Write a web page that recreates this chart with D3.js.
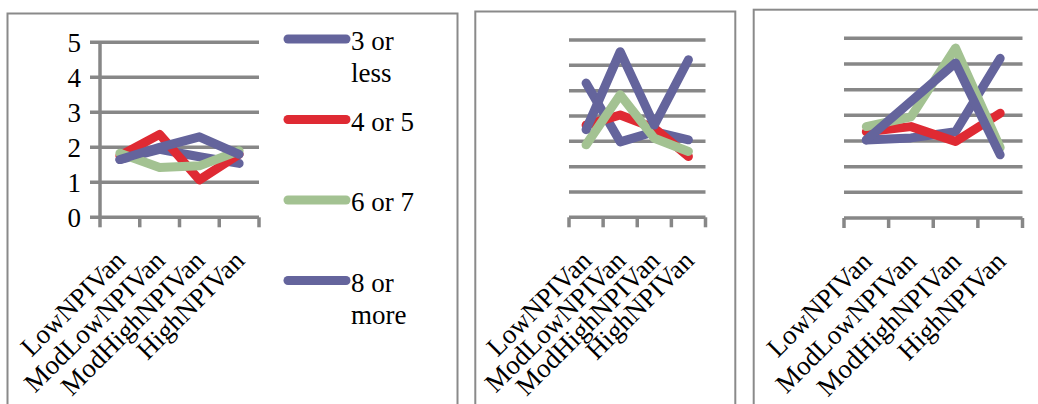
<!DOCTYPE html>
<html>
<head>
<meta charset="utf-8">
<script src="https://cdn.jsdelivr.net/npm/d3@7"></script>
<style>
  html, body { margin: 0; padding: 0; background: #fff; }
  svg { display: block; }
  text { font-family: "Liberation Serif", "DejaVu Serif", serif; fill: #000; }
</style>
</head>
<body>
<svg id="chart" width="1038" height="404"></svg>
<script>
// Categories and series shared by the three panels
const categories = ["LowNPIVan", "ModLowNPIVan", "ModHighNPIVan", "HighNPIVan"];
const seriesNames = ["3 or less", "4 or 5", "6 or 7", "8 or more"];
const seriesColors = ["#64649c", "#df2a33", "#a3c292", "#64649c"];

// Panel 1 (labelled 0–5 axis)
const panel1ThreeOrLess = [1.65, 1.94, 1.73, 1.54];
const panel1FourOrFive  = [1.76, 2.37, 1.07, 1.80];
const panel1SixOrSeven  = [1.83, 1.42, 1.47, 1.90];
const panel1EightOrMore = [1.65, 2.00, 2.30, 1.80];
const panel1Ticks = [0, 1, 2, 3, 4, 5];

// Panel 2
const panel2ThreeOrLess = [2.65, 1.49, 1.69, 1.53];
const panel2FourOrFive  = [1.82, 2.02, 1.76, 1.20];
const panel2SixOrSeven  = [1.43, 2.42, 1.56, 1.30];
const panel2EightOrMore = [1.73, 3.27, 1.82, 3.11];

// Panel 3
const panel3ThreeOrLess = [1.52, 1.56, 1.68, 3.11];
const panel3FourOrFive  = [1.68, 1.78, 1.49, 2.04];
const panel3SixOrSeven  = [1.78, 1.97, 3.31, 1.37];
const panel3EightOrMore = [1.52, 2.27, 3.02, 1.23];
const smallGridTicks = [0.5, 1, 1.5, 2, 2.5, 3, 3.5];

const svg = d3.select("#chart");
const gridColor = "#878787";
const borderColor = "#8a8a8a";

function drawPanel(opt) {
  // frame
  svg.append("rect")
    .attr("x", opt.frame[0]).attr("y", opt.frame[1])
    .attr("width", opt.frame[2]).attr("height", opt.frame[3])
    .attr("fill", "#fff").attr("stroke", borderColor).attr("stroke-width", 2);

  const x = d3.scaleBand().domain(categories).range([opt.left, opt.right]);
  const y = d3.scaleLinear().domain(opt.domain).range([opt.bottom, opt.top]);
  const g = svg.append("g");

  // horizontal gridlines
  g.selectAll("line.grid").data(opt.gridTicks).join("line")
    .attr("class", "grid")
    .attr("x1", opt.gridStart).attr("x2", opt.right)
    .attr("y1", d => y(d)).attr("y2", d => y(d))
    .attr("stroke", gridColor).attr("stroke-width", 3.5);

  // category axis with tick marks at band edges
  const xAxis = d3.axisBottom(x).tickSize(0).tickFormat("");
  const ax = g.append("g").attr("transform", `translate(0,${opt.bottom})`).call(xAxis);
  ax.select(".domain").remove();
  g.append("line")
    .attr("x1", opt.axisStart).attr("x2", opt.right)
    .attr("y1", opt.bottom).attr("y2", opt.bottom)
    .attr("stroke", gridColor).attr("stroke-width", 3.5);
  const edges = categories.map(c => x(c)).concat([opt.right]);
  g.selectAll("line.xtick").data(edges).join("line")
    .attr("class", "xtick")
    .attr("x1", d => d).attr("x2", d => d)
    .attr("y1", opt.bottom).attr("y2", opt.bottom + 10)
    .attr("stroke", gridColor).attr("stroke-width", 3.5);

  // value axis (first panel only)
  if (opt.yLabels) {
    g.append("line")
      .attr("x1", opt.left).attr("x2", opt.left)
      .attr("y1", y(opt.domain[1])).attr("y2", opt.bottom)
      .attr("stroke", gridColor).attr("stroke-width", 3.5);
    const yAxis = d3.axisLeft(y).tickValues(opt.yLabels).tickSize(0).tickFormat(d3.format("d"));
    const ay = g.append("g").attr("transform", `translate(${opt.left - 16},0)`).call(yAxis);
    ay.select(".domain").remove();
    ay.selectAll("text")
      .attr("font-family", "Liberation Serif, DejaVu Serif, serif")
      .attr("font-size", 27).attr("fill", "#000").attr("dy", "0.34em");
  }

  // rotated category labels
  g.selectAll("text.cat").data(categories).join("text")
    .attr("class", "cat")
    .attr("text-anchor", "end")
    .attr("font-size", 27)
    .attr("transform", d => `translate(${x(d) + x.bandwidth() / 2 + opt.labelDx},${opt.bottom + 45}) rotate(-45)`)
    .text(d => d);

  // series lines
  const line = d3.line()
    .x((d, i) => x(categories[i]) + x.bandwidth() / 2)
    .y(d => y(d));
  g.selectAll("path.series").data(opt.series).join("path")
    .attr("class", "series")
    .attr("d", d => line(d))
    .attr("fill", "none")
    .attr("stroke", (d, i) => seriesColors[i])
    .attr("stroke-width", 9)
    .attr("stroke-linejoin", "round")
    .attr("stroke-linecap", "round");

  // legend
  if (opt.legend) {
    const lg = svg.append("g");
    const rows = [["3 or", "less"], ["4 or 5"], ["6 or 7"], ["8 or", "more"]];
    seriesNames.forEach((name, i) => {
      const ly = opt.legend.y0 + i * opt.legend.step;
      lg.append("line")
        .attr("x1", opt.legend.x).attr("x2", opt.legend.x + 58)
        .attr("y1", ly).attr("y2", ly)
        .attr("stroke", seriesColors[i]).attr("stroke-width", 9)
        .attr("stroke-linecap", "round");
      const t = lg.append("text")
        .attr("x", opt.legend.x + 63).attr("y", ly + 11)
        .attr("font-size", 27);
      rows[i].forEach((r, k) => {
        t.append("tspan").attr("x", opt.legend.x + 63).attr("dy", k === 0 ? 0 : 32).text(r);
      });
    });
  }
}

drawPanel({
  frame: [7.5, 13.5, 450, 420],
  left: 100, right: 259, top: 42.3, bottom: 217.3,
  gridStart: 90, axisStart: 90,
  domain: [0, 5], gridTicks: [1, 2, 3, 4, 5], yLabels: panel1Ticks,
  labelDx: 7,
  series: [panel1ThreeOrLess, panel1FourOrFive, panel1SixOrSeven, panel1EightOrMore],
  legend: { x: 288, y0: 39, step: 80.5 }
});

drawPanel({
  frame: [475.3, 11.5, 260, 420],
  left: 569, right: 705.5, top: 40, bottom: 217.3,
  gridStart: 569, axisStart: 569,
  domain: [0, 3.5], gridTicks: smallGridTicks,
  labelDx: 7,
  series: [panel2ThreeOrLess, panel2FourOrFive, panel2SixOrSeven, panel2EightOrMore]
});

drawPanel({
  frame: [753.7, 9.7, 300, 420],
  left: 844, right: 1022.5, top: 38.3, bottom: 218,
  gridStart: 844, axisStart: 844,
  domain: [0, 3.5], gridTicks: smallGridTicks,
  labelDx: 7,
  series: [panel3ThreeOrLess, panel3FourOrFive, panel3SixOrSeven, panel3EightOrMore]
});
</script>
</body>
</html>
